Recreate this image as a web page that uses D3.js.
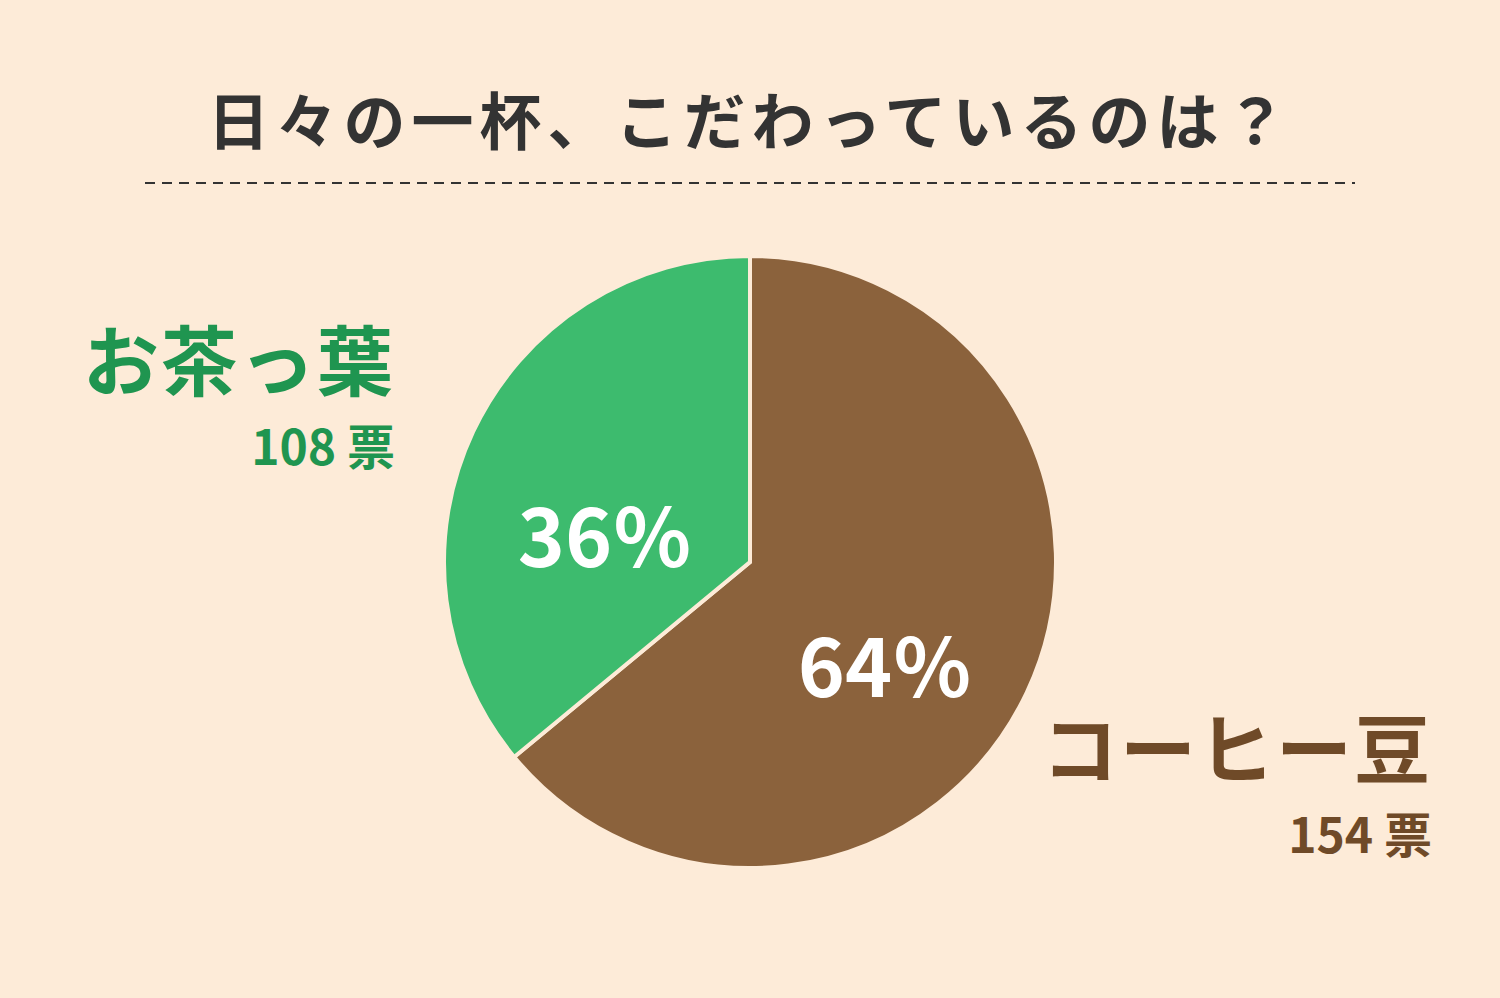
<!DOCTYPE html>
<html><head><meta charset="utf-8">
<script src="https://cdn.jsdelivr.net/npm/d3@7"></script>
<style>
body{margin:0;background:#fdebd8}
text{font-family:"Noto Sans CJK JP","Noto Sans",sans-serif;font-weight:bold}
</style></head><body>
<script>
const width = 1500
const height = 998

const categories = ["コーヒー豆", "お茶っ葉"]
const percents = [64, 36]
const votes = [154, 108]
const colors = ["#8b623c", "#3dbb6e"]

const svg = d3.select("body").append("svg")
    .attr("width", width)
    .attr("height", height)
svg.append("rect").attr("width", width).attr("height", height).attr("fill", "#fdebd8")

svg.append("text")
    .attr("x", 750).attr("y", 145)
    .attr("text-anchor", "middle")
    .attr("font-size", 62)
    .attr("letter-spacing", 6)
    .attr("fill", "#333")
    .text("日々の一杯、こだわっているのは？")
svg.append("line")
    .attr("x1", 145).attr("x2", 1355).attr("y1", 183).attr("y2", 183)
    .attr("stroke", "#333").attr("stroke-width", 2).attr("stroke-dasharray", "10,7")

const cx = 750, cy = 562, r = 306
const pie = d3.pie().sort(null)(percents)
const arc = d3.arc().innerRadius(0).outerRadius(r)
const g = svg.append("g").attr("transform", `translate(${cx},${cy})`)
g.selectAll("path").data(pie).enter().append("path")
    .attr("d", arc)
    .attr("fill", (d, i) => colors[i])
    .attr("stroke", "#fdebd8").attr("stroke-width", 4)

const pctPos = [[135, 100], [-145, -30]]
g.selectAll("text.pct").data(pie).enter().append("text")
    .attr("class", "pct")
    .attr("x", (d, i) => pctPos[i][0]).attr("y", (d, i) => pctPos[i][1])
    .attr("text-anchor", "middle").attr("dominant-baseline", "central")
    .attr("font-size", 80).attr("fill", "#fff")
    .text((d, i) => percents[i] + "％")

const labelPos = [[1432, 778, 853], [395, 390, 465]]
categories.forEach((c, i) => {
    svg.append("text")
        .attr("x", labelPos[i][0]).attr("y", labelPos[i][1])
        .attr("text-anchor", "end").attr("font-size", 76)
        .attr("letter-spacing", 2)
        .attr("fill", colors[i] === "#3dbb6e" ? "#1f9550" : "#6f4a28")
        .text(c)
    svg.append("text")
        .attr("x", labelPos[i][0]).attr("y", labelPos[i][2])
        .attr("text-anchor", "end").attr("font-size", 48)
        .attr("fill", colors[i] === "#3dbb6e" ? "#1f9550" : "#6f4a28")
        .text(votes[i] + " 票")
})
</script>
</body></html>
